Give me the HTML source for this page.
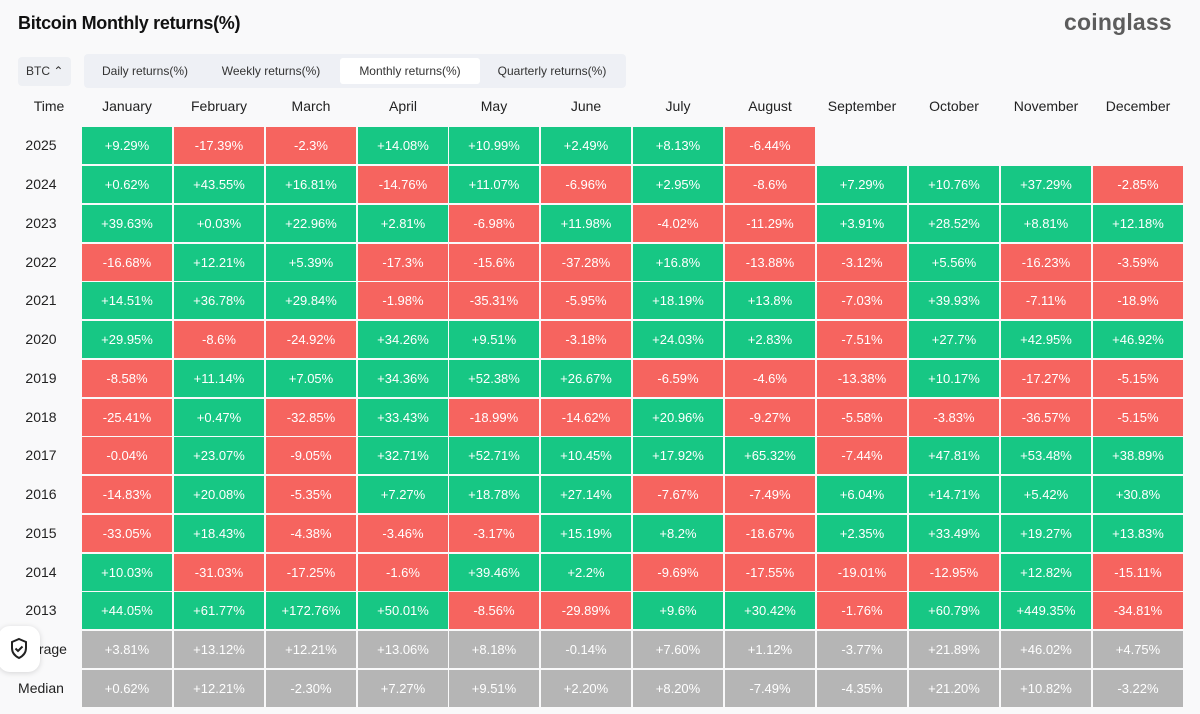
<!DOCTYPE html>
<html><head><meta charset="utf-8"><style>
body{margin:0;width:1200px;height:714px;background:#f9f9fa;font-family:"Liberation Sans",sans-serif;position:relative;overflow:hidden}
.t{position:absolute;left:18px;top:13px;font-size:18px;font-weight:bold;color:#111;letter-spacing:-0.3px}
.logo{position:absolute;left:1064px;top:9px;font-size:23px;font-weight:bold;color:#5c5c5c;letter-spacing:0.2px}
.btc{position:absolute;left:18px;top:57px;width:53px;height:29px;background:#eef0f4;border-radius:4px;font-size:12px;color:#333;line-height:29px;text-indent:8px}
.tabs{position:absolute;left:84px;top:54px;width:542px;height:34px;background:#eef0f5;border-radius:4px}
.tab{position:absolute;top:4px;height:26px;line-height:26px;font-size:12px;color:#333;text-align:center}
.tab.a{background:#fff;border-radius:3px}
.hd{position:absolute;top:98px;font-size:14px;color:#222;width:90px;text-align:center}
.row{position:absolute;left:0;height:37px;width:1200px}
.yr{position:absolute;left:0;width:82px;text-align:center;line-height:37px;font-size:14px;color:#222}
.c{position:absolute;top:0;width:90px;height:37px;line-height:37px;text-align:center;color:#fff;font-size:13px}
.g{background:#17c784}.r{background:#f6645f}.n{background:#b5b5b5}
</style></head><body>
<div class="t">Bitcoin Monthly returns(%)</div>
<div class="logo">coinglass</div>
<div class="btc">BTC ⌃</div>
<div class="tabs">
<div class="tab" style="left:4px;width:114px">Daily returns(%)</div>
<div class="tab" style="left:120px;width:134px">Weekly returns(%)</div>
<div class="tab a" style="left:256px;width:140px">Monthly returns(%)</div>
<div class="tab" style="left:398px;width:140px">Quarterly returns(%)</div>
</div>
<div class="hd" style="left:0;width:98px">Time</div>
<div class="hd" style="left:82px">January</div><div class="hd" style="left:174px">February</div><div class="hd" style="left:266px">March</div><div class="hd" style="left:358px">April</div><div class="hd" style="left:449px">May</div><div class="hd" style="left:541px">June</div><div class="hd" style="left:633px">July</div><div class="hd" style="left:725px">August</div><div class="hd" style="left:817px">September</div><div class="hd" style="left:909px">October</div><div class="hd" style="left:1001px">November</div><div class="hd" style="left:1093px">December</div>

<div class="row" style="top:127px"><div class="yr">2025</div><div class="c g" style="left:82px">+9.29%</div><div class="c r" style="left:174px">-17.39%</div><div class="c r" style="left:266px">-2.3%</div><div class="c g" style="left:358px">+14.08%</div><div class="c g" style="left:449px">+10.99%</div><div class="c g" style="left:541px">+2.49%</div><div class="c g" style="left:633px">+8.13%</div><div class="c r" style="left:725px">-6.44%</div></div>
<div class="row" style="top:166px"><div class="yr">2024</div><div class="c g" style="left:82px">+0.62%</div><div class="c g" style="left:174px">+43.55%</div><div class="c g" style="left:266px">+16.81%</div><div class="c r" style="left:358px">-14.76%</div><div class="c g" style="left:449px">+11.07%</div><div class="c r" style="left:541px">-6.96%</div><div class="c g" style="left:633px">+2.95%</div><div class="c r" style="left:725px">-8.6%</div><div class="c g" style="left:817px">+7.29%</div><div class="c g" style="left:909px">+10.76%</div><div class="c g" style="left:1001px">+37.29%</div><div class="c r" style="left:1093px">-2.85%</div></div>
<div class="row" style="top:205px"><div class="yr">2023</div><div class="c g" style="left:82px">+39.63%</div><div class="c g" style="left:174px">+0.03%</div><div class="c g" style="left:266px">+22.96%</div><div class="c g" style="left:358px">+2.81%</div><div class="c r" style="left:449px">-6.98%</div><div class="c g" style="left:541px">+11.98%</div><div class="c r" style="left:633px">-4.02%</div><div class="c r" style="left:725px">-11.29%</div><div class="c g" style="left:817px">+3.91%</div><div class="c g" style="left:909px">+28.52%</div><div class="c g" style="left:1001px">+8.81%</div><div class="c g" style="left:1093px">+12.18%</div></div>
<div class="row" style="top:244px"><div class="yr">2022</div><div class="c r" style="left:82px">-16.68%</div><div class="c g" style="left:174px">+12.21%</div><div class="c g" style="left:266px">+5.39%</div><div class="c r" style="left:358px">-17.3%</div><div class="c r" style="left:449px">-15.6%</div><div class="c r" style="left:541px">-37.28%</div><div class="c g" style="left:633px">+16.8%</div><div class="c r" style="left:725px">-13.88%</div><div class="c r" style="left:817px">-3.12%</div><div class="c g" style="left:909px">+5.56%</div><div class="c r" style="left:1001px">-16.23%</div><div class="c r" style="left:1093px">-3.59%</div></div>
<div class="row" style="top:282px"><div class="yr">2021</div><div class="c g" style="left:82px">+14.51%</div><div class="c g" style="left:174px">+36.78%</div><div class="c g" style="left:266px">+29.84%</div><div class="c r" style="left:358px">-1.98%</div><div class="c r" style="left:449px">-35.31%</div><div class="c r" style="left:541px">-5.95%</div><div class="c g" style="left:633px">+18.19%</div><div class="c g" style="left:725px">+13.8%</div><div class="c r" style="left:817px">-7.03%</div><div class="c g" style="left:909px">+39.93%</div><div class="c r" style="left:1001px">-7.11%</div><div class="c r" style="left:1093px">-18.9%</div></div>
<div class="row" style="top:321px"><div class="yr">2020</div><div class="c g" style="left:82px">+29.95%</div><div class="c r" style="left:174px">-8.6%</div><div class="c r" style="left:266px">-24.92%</div><div class="c g" style="left:358px">+34.26%</div><div class="c g" style="left:449px">+9.51%</div><div class="c r" style="left:541px">-3.18%</div><div class="c g" style="left:633px">+24.03%</div><div class="c g" style="left:725px">+2.83%</div><div class="c r" style="left:817px">-7.51%</div><div class="c g" style="left:909px">+27.7%</div><div class="c g" style="left:1001px">+42.95%</div><div class="c g" style="left:1093px">+46.92%</div></div>
<div class="row" style="top:360px"><div class="yr">2019</div><div class="c r" style="left:82px">-8.58%</div><div class="c g" style="left:174px">+11.14%</div><div class="c g" style="left:266px">+7.05%</div><div class="c g" style="left:358px">+34.36%</div><div class="c g" style="left:449px">+52.38%</div><div class="c g" style="left:541px">+26.67%</div><div class="c r" style="left:633px">-6.59%</div><div class="c r" style="left:725px">-4.6%</div><div class="c r" style="left:817px">-13.38%</div><div class="c g" style="left:909px">+10.17%</div><div class="c r" style="left:1001px">-17.27%</div><div class="c r" style="left:1093px">-5.15%</div></div>
<div class="row" style="top:399px"><div class="yr">2018</div><div class="c r" style="left:82px">-25.41%</div><div class="c g" style="left:174px">+0.47%</div><div class="c r" style="left:266px">-32.85%</div><div class="c g" style="left:358px">+33.43%</div><div class="c r" style="left:449px">-18.99%</div><div class="c r" style="left:541px">-14.62%</div><div class="c g" style="left:633px">+20.96%</div><div class="c r" style="left:725px">-9.27%</div><div class="c r" style="left:817px">-5.58%</div><div class="c r" style="left:909px">-3.83%</div><div class="c r" style="left:1001px">-36.57%</div><div class="c r" style="left:1093px">-5.15%</div></div>
<div class="row" style="top:437px"><div class="yr">2017</div><div class="c r" style="left:82px">-0.04%</div><div class="c g" style="left:174px">+23.07%</div><div class="c r" style="left:266px">-9.05%</div><div class="c g" style="left:358px">+32.71%</div><div class="c g" style="left:449px">+52.71%</div><div class="c g" style="left:541px">+10.45%</div><div class="c g" style="left:633px">+17.92%</div><div class="c g" style="left:725px">+65.32%</div><div class="c r" style="left:817px">-7.44%</div><div class="c g" style="left:909px">+47.81%</div><div class="c g" style="left:1001px">+53.48%</div><div class="c g" style="left:1093px">+38.89%</div></div>
<div class="row" style="top:476px"><div class="yr">2016</div><div class="c r" style="left:82px">-14.83%</div><div class="c g" style="left:174px">+20.08%</div><div class="c r" style="left:266px">-5.35%</div><div class="c g" style="left:358px">+7.27%</div><div class="c g" style="left:449px">+18.78%</div><div class="c g" style="left:541px">+27.14%</div><div class="c r" style="left:633px">-7.67%</div><div class="c r" style="left:725px">-7.49%</div><div class="c g" style="left:817px">+6.04%</div><div class="c g" style="left:909px">+14.71%</div><div class="c g" style="left:1001px">+5.42%</div><div class="c g" style="left:1093px">+30.8%</div></div>
<div class="row" style="top:515px"><div class="yr">2015</div><div class="c r" style="left:82px">-33.05%</div><div class="c g" style="left:174px">+18.43%</div><div class="c r" style="left:266px">-4.38%</div><div class="c r" style="left:358px">-3.46%</div><div class="c r" style="left:449px">-3.17%</div><div class="c g" style="left:541px">+15.19%</div><div class="c g" style="left:633px">+8.2%</div><div class="c r" style="left:725px">-18.67%</div><div class="c g" style="left:817px">+2.35%</div><div class="c g" style="left:909px">+33.49%</div><div class="c g" style="left:1001px">+19.27%</div><div class="c g" style="left:1093px">+13.83%</div></div>
<div class="row" style="top:554px"><div class="yr">2014</div><div class="c g" style="left:82px">+10.03%</div><div class="c r" style="left:174px">-31.03%</div><div class="c r" style="left:266px">-17.25%</div><div class="c r" style="left:358px">-1.6%</div><div class="c g" style="left:449px">+39.46%</div><div class="c g" style="left:541px">+2.2%</div><div class="c r" style="left:633px">-9.69%</div><div class="c r" style="left:725px">-17.55%</div><div class="c r" style="left:817px">-19.01%</div><div class="c r" style="left:909px">-12.95%</div><div class="c g" style="left:1001px">+12.82%</div><div class="c r" style="left:1093px">-15.11%</div></div>
<div class="row" style="top:592px"><div class="yr">2013</div><div class="c g" style="left:82px">+44.05%</div><div class="c g" style="left:174px">+61.77%</div><div class="c g" style="left:266px">+172.76%</div><div class="c g" style="left:358px">+50.01%</div><div class="c r" style="left:449px">-8.56%</div><div class="c r" style="left:541px">-29.89%</div><div class="c g" style="left:633px">+9.6%</div><div class="c g" style="left:725px">+30.42%</div><div class="c r" style="left:817px">-1.76%</div><div class="c g" style="left:909px">+60.79%</div><div class="c g" style="left:1001px">+449.35%</div><div class="c r" style="left:1093px">-34.81%</div></div>
<div class="row" style="top:631px"><div class="yr">Average</div><div class="c n" style="left:82px">+3.81%</div><div class="c n" style="left:174px">+13.12%</div><div class="c n" style="left:266px">+12.21%</div><div class="c n" style="left:358px">+13.06%</div><div class="c n" style="left:449px">+8.18%</div><div class="c n" style="left:541px">-0.14%</div><div class="c n" style="left:633px">+7.60%</div><div class="c n" style="left:725px">+1.12%</div><div class="c n" style="left:817px">-3.77%</div><div class="c n" style="left:909px">+21.89%</div><div class="c n" style="left:1001px">+46.02%</div><div class="c n" style="left:1093px">+4.75%</div></div>
<div class="row" style="top:670px"><div class="yr">Median</div><div class="c n" style="left:82px">+0.62%</div><div class="c n" style="left:174px">+12.21%</div><div class="c n" style="left:266px">-2.30%</div><div class="c n" style="left:358px">+7.27%</div><div class="c n" style="left:449px">+9.51%</div><div class="c n" style="left:541px">+2.20%</div><div class="c n" style="left:633px">+8.20%</div><div class="c n" style="left:725px">-7.49%</div><div class="c n" style="left:817px">-4.35%</div><div class="c n" style="left:909px">+21.20%</div><div class="c n" style="left:1001px">+10.82%</div><div class="c n" style="left:1093px">-3.22%</div></div>
<div style="position:absolute;left:-2px;top:626px;width:42px;height:46px;background:#fff;border-radius:12px;box-shadow:0 1px 6px rgba(0,0,0,.15)">
<svg width="42" height="46" viewBox="0 0 42 46"><path d="M21 13l7 3v6c0 5-3 8-7 10c-4-2-7-5-7-10v-6z" fill="none" stroke="#222" stroke-width="2"/><path d="M17.5 22.5l2.5 2.5 4.5-4.5" fill="none" stroke="#222" stroke-width="2"/></svg></div>
</body></html>
